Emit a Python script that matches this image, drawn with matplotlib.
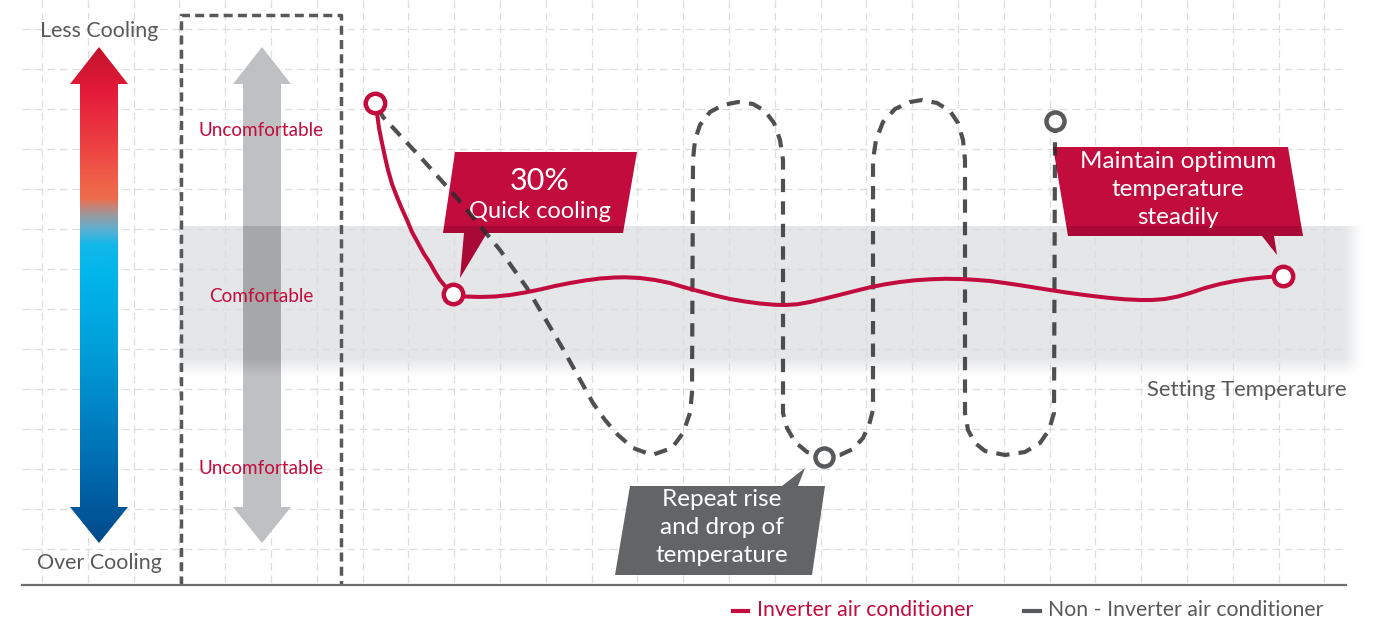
import numpy as np
import matplotlib.pyplot as plt
from matplotlib.patches import Polygon
from matplotlib.colors import LinearSegmentedColormap

# canvas works in pixel units of the reference (y grows downward)
W, H = 1382, 627

# inverter curve (red)
red_x = [375, 377, 379, 382, 385, 388, 392, 397, 402, 407, 412, 418, 424, 430, 435, 440,
         445, 450, 453, 465, 480, 495, 510, 525, 540, 555, 570, 585, 600, 615, 625, 640,
         655, 670, 685, 700, 715, 730, 745, 760, 775, 785, 797, 810, 825, 840, 855, 870,
         885, 900, 915, 930, 945, 960, 975, 990, 1005, 1020, 1035, 1050, 1065, 1080, 1095,
         1110, 1125, 1140, 1152, 1165, 1178, 1190, 1205, 1220, 1235, 1250, 1265, 1283]
red_y = [103, 113, 128, 143, 157, 170, 184, 197, 209, 220, 232, 243, 254, 263, 272, 280,
         286, 291, 294, 296.5, 297, 296.5, 295, 292.5, 289.5, 286, 283, 280.5, 278.5, 277.5,
         277.3, 278, 280, 283, 287.5, 291.5, 295.5, 299, 301.5, 303.5, 304.8, 305, 304.3,
         302, 298.5, 294.8, 291, 287.3, 284.3, 282, 280.3, 279.3, 278.8, 279, 279.8, 281,
         283, 285.2, 287.6, 290, 292.3, 294.4, 296.3, 298, 299.3, 300, 300, 299, 296.5, 293,
         288, 284, 281, 278.8, 277.3, 276]

# non-inverter curve (grey dashed)
gray_x = [378, 383, 423, 457, 500, 527, 540, 553, 563, 573, 583, 593, 605, 618, 633, 652,
          672, 683, 690, 692, 693, 695, 700, 710, 723, 738, 753, 765, 774, 780, 783, 783,
          787, 795, 807, 824, 840, 853, 863, 869, 873, 873, 876, 883, 895, 910, 922, 937,
          950, 958, 963, 965, 965, 968, 975, 985, 1005, 1025, 1040, 1049, 1054, 1055, 1055]
gray_y = [108, 117, 160, 198, 250, 288, 310, 332, 349, 367, 385, 403, 420, 435, 448, 455,
          448, 433, 413, 393, 160, 140, 125, 112, 105, 102, 104, 111, 123, 140, 160, 413,
          428, 442, 452, 457, 455, 449, 438, 425, 410, 160, 140, 122, 109, 102, 100, 103,
          111, 123, 140, 160, 413, 430, 443, 451, 455, 452, 443, 430, 413, 143, 128]

red_marks = [(375, 103), (453, 294), (1283, 276)]
gray_marks = [(1055, 121), (824, 457)]

level_labels = ["Uncomfortable", "Comfortable", "Uncomfortable"]
level_y = [131, 296, 469]
legend_labels = ["Inverter air conditioner", "Non - Inverter air conditioner"]

RED = '#c20c3e'
GREY_TXT = '#58595b'
FONT = ['Lato', 'DejaVu Sans']

fig = plt.figure(figsize=(W / 100, H / 100), dpi=100)
ax = fig.add_axes([0, 0, 1, 1])
ax.set_xlim(0, W)
ax.set_ylim(H, 0)
ax.axis('off')

# comfortable band with soft bottom/right edges
bx0, bx1, by0, by1 = 180, 1366, 226, 380
xs = np.arange(bx0, bx1) + 0.5
ys = np.arange(by0, by1) + 0.5
fy = np.clip((376 - ys) / 18, 0, 1)
fx = np.clip((1362 - xs) / 18, 0, 1)
prof = np.outer(fy, fx)
band = np.zeros((len(ys), len(xs), 4))
band[..., :3] = np.array([229, 230, 232]) / 255
band[..., 3] = prof
ax.imshow(band, extent=(bx0, bx1, by1, by0), origin='upper', zorder=1,
          interpolation='bilinear', aspect='auto')

# grid
for gx in np.arange(42, 1340, 45.8):
    ax.plot([gx, gx], [0, 585], color='#dcdddf', lw=0.9, ls=(0, (6, 4)), zorder=2)
for gy in np.arange(29, 560, 40):
    ax.plot([22, 1346], [gy, gy], color='#dcdddf', lw=0.9, ls=(0, (6, 4)), zorder=2)

# baseline
ax.plot([22, 1346], [585, 585], color='#6d6e70', lw=1.6, zorder=6)


def double_arrow(cx):
    return [(cx, 47), (cx + 29, 84), (cx + 19, 84), (cx + 19, 507), (cx + 29, 507),
            (cx, 543), (cx - 29, 507), (cx - 19, 507), (cx - 19, 84), (cx - 29, 84)]


def darken(patch):
    # band shading over a filled shape
    sh = np.zeros((len(ys), len(xs), 4))
    sh[..., 3] = prof * 0.13
    im = ax.imshow(sh, extent=(bx0, bx1, by1, by0), origin='upper', zorder=4,
                   interpolation='bilinear', aspect='auto')
    im.set_clip_path(patch)


# gradient arrow
stops = [(47, '#c3122b'), (90, '#e41b3b'), (140, '#ec3d42'), (185, '#f0644a'),
         (198, '#ee6c4c'), (212, '#a89494'), (228, '#5fb0d0'), (245, '#12b9ea'),
         (275, '#00b5ea'), (340, '#00a2dc'), (410, '#0085c6'), (480, '#0066aa'),
         (543, '#004a8c')]
cmap = LinearSegmentedColormap.from_list(
    'cool', [((y - 47) / (543 - 47), c) for y, c in stops])
grad = np.linspace(0, 1, 500)[:, None]
arr1 = Polygon(double_arrow(99), closed=True, fc='none', ec='none')
ax.add_patch(arr1)
im = ax.imshow(grad, cmap=cmap, extent=(70, 128, 543, 47), origin='upper',
               aspect='auto', zorder=3)
im.set_clip_path(arr1)

# grey arrow
arr2 = Polygon(double_arrow(262), closed=True, fc='#bfc0c2', ec='none', zorder=3)
ax.add_patch(arr2)
darken(arr2)

# dashed box
ax.plot([181, 181, 341, 341], [585, 15, 15, 585], color='#58595b', lw=2.5,
        ls=(0, (2.6, 1.5)), zorder=5)

ax.text(99, 31, "Less Cooling", ha='center', va='center', fontsize=15.4,
        color=GREY_TXT, family=FONT, zorder=7)
ax.text(99, 563, "Over Cooling", ha='center', va='center', fontsize=15.4,
        color=GREY_TXT, family=FONT, zorder=7)
for lab, ly in zip(level_labels, level_y):
    ax.text(261, ly, lab, ha='center', va='center', fontsize=13.6, color=RED,
            family=FONT, zorder=7)

# callouts
box1 = Polygon([(455, 152), (637, 152), (623, 233), (487, 233), (460, 278), (464, 233),
                (443, 233)], closed=True, fc=RED, ec='none', zorder=3)
ax.add_patch(box1)
darken(box1)
ax.text(540, 181, "30%", ha='center', va='center', fontsize=22, color='white',
        family=FONT, zorder=7)
ax.text(540, 211, "Quick cooling", ha='center', va='center', fontsize=17,
        color='white', family=FONT, zorder=7)

box2 = Polygon([(1053, 147), (1288, 147), (1303, 236), (1274, 236), (1277, 255),
                (1262, 236), (1068, 236)], closed=True, fc=RED, ec='none', zorder=3)
ax.add_patch(box2)
darken(box2)
for t, ty in zip(["Maintain optimum", "temperature", "steadily"], [162, 190, 217]):
    ax.text(1178, ty, t, ha='center', va='center', fontsize=17.5, color='white',
            family=FONT, zorder=7)

box3 = Polygon([(630, 486), (782, 486), (805, 468), (798, 486), (825, 486), (812, 575),
                (615, 575)], closed=True, fc='#636466', ec='none', zorder=6)
ax.add_patch(box3)
for t, ty in zip(["Repeat rise", "and drop of", "temperature"], [500, 527, 555]):
    ax.text(722, ty, t, ha='center', va='center', fontsize=17.5, color='white',
            family=FONT, zorder=7)

ax.text(1347, 390, "Setting Temperature", ha='right', va='center', fontsize=15.8,
        color=GREY_TXT, family=FONT, zorder=7)

# curves
ax.plot(gray_x, gray_y, color='#2a2a2a', alpha=0.82, lw=3.0, ls=(0, (3.2, 2.2)),
        zorder=8)
ax.plot(red_x, red_y, color=RED, lw=2.9, zorder=9, solid_capstyle='round',
        solid_joinstyle='round')
for mx, my in red_marks:
    ax.plot(mx, my, 'o', ms=14, mfc='white', mec=RED, mew=3.2, zorder=10)
for mx, my in gray_marks:
    ax.plot(mx, my, 'o', ms=13, mfc='white', mec='#58595b', mew=3.2, zorder=10)

# legend
ax.plot([733, 748], [611, 611], color=RED, lw=3, zorder=7)
ax.text(757, 610, legend_labels[0], ha='left', va='center', fontsize=15.3, color=RED,
        family=FONT)
ax.plot([1024, 1040], [611, 611], color='#58595b', lw=3, zorder=7)
ax.text(1048, 610, legend_labels[1], ha='left', va='center', fontsize=15.3,
        color=GREY_TXT, family=FONT)

plt.savefig("out.png", dpi=100)
